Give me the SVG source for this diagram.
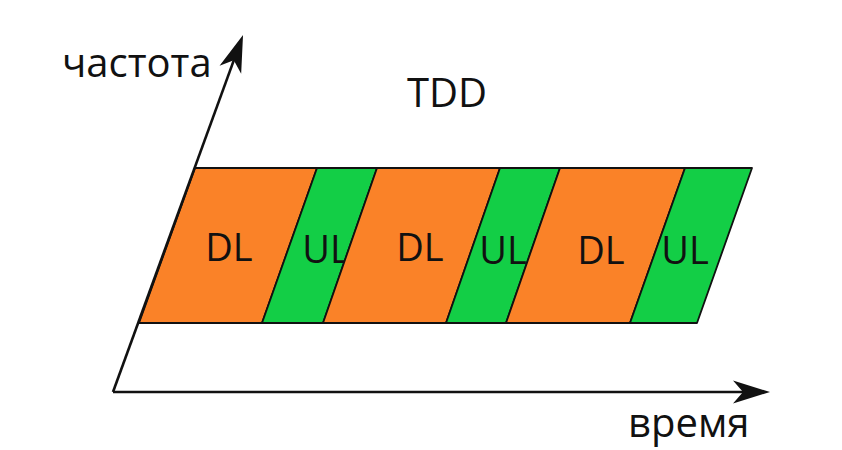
<svg xmlns="http://www.w3.org/2000/svg" width="842" height="450" viewBox="0 0 842 450">
  <style>
    .dl { fill: #FA8228; stroke: #111; stroke-width: 1.8; stroke-linejoin: round; }
    .ul { fill: #13CE46; stroke: #111; stroke-width: 1.8; stroke-linejoin: round; }
    .lbl { font-family: "Open Sans", "Noto Sans", "DejaVu Sans", sans-serif; font-size: 38px; fill: #111; }
    .big { font-size: 40px; }
    .mid { text-anchor: middle; }
    .axis { stroke: #111; stroke-width: 2.6; fill: none; }
  </style>
  <defs>
    <marker id="arrow" markerUnits="userSpaceOnUse" markerWidth="44" markerHeight="30" viewBox="-40 -15 44 30" refX="-10" refY="0" orient="auto">
      <path d="M0,0 L-37,-11.5 L-27,0 L-37,11.5 Z" fill="#111"/>
    </marker>
  </defs>
  <rect width="842" height="450" fill="#fff"/>

  <g id="band">
    <g id="dl1"><polygon class="dl" points="195,168 317,168 262,323 139,323"/><text class="lbl mid" x="229" y="261">DL</text></g>
    <g id="ul1"><polygon class="ul" points="317,168 377,168 323,323 262,323"/><text class="lbl mid" x="326" y="263">UL</text></g>
    <g id="dl2"><polygon class="dl" points="377,168 500,168 446,323 323,323"/><text class="lbl mid" x="420" y="261">DL</text></g>
    <g id="ul2"><polygon class="ul" points="500,168 560,168 506,323 446,323"/><text class="lbl mid" x="503" y="264">UL</text></g>
    <g id="dl3"><polygon class="dl" points="560,168 685,168 630,323 506,323"/><text class="lbl mid" x="601" y="264">DL</text></g>
    <g id="ul3"><polygon class="ul" points="685,168 752,168 697,323 630,323"/><text class="lbl mid" x="685" y="264">UL</text></g>
  </g>

  <g id="connectors">
    <path class="axis" d="M113,392 L239.6,44.4" marker-end="url(#arrow)"/>
    <path class="axis" d="M113,392 L760,392" marker-end="url(#arrow)"/>
  </g>

  <g id="labels">
    <text class="lbl big" x="62" y="77">частота</text>
    <text class="lbl big" x="407" y="107">TDD</text>
    <text class="lbl big" x="628" y="437">время</text>
  </g>
</svg>
